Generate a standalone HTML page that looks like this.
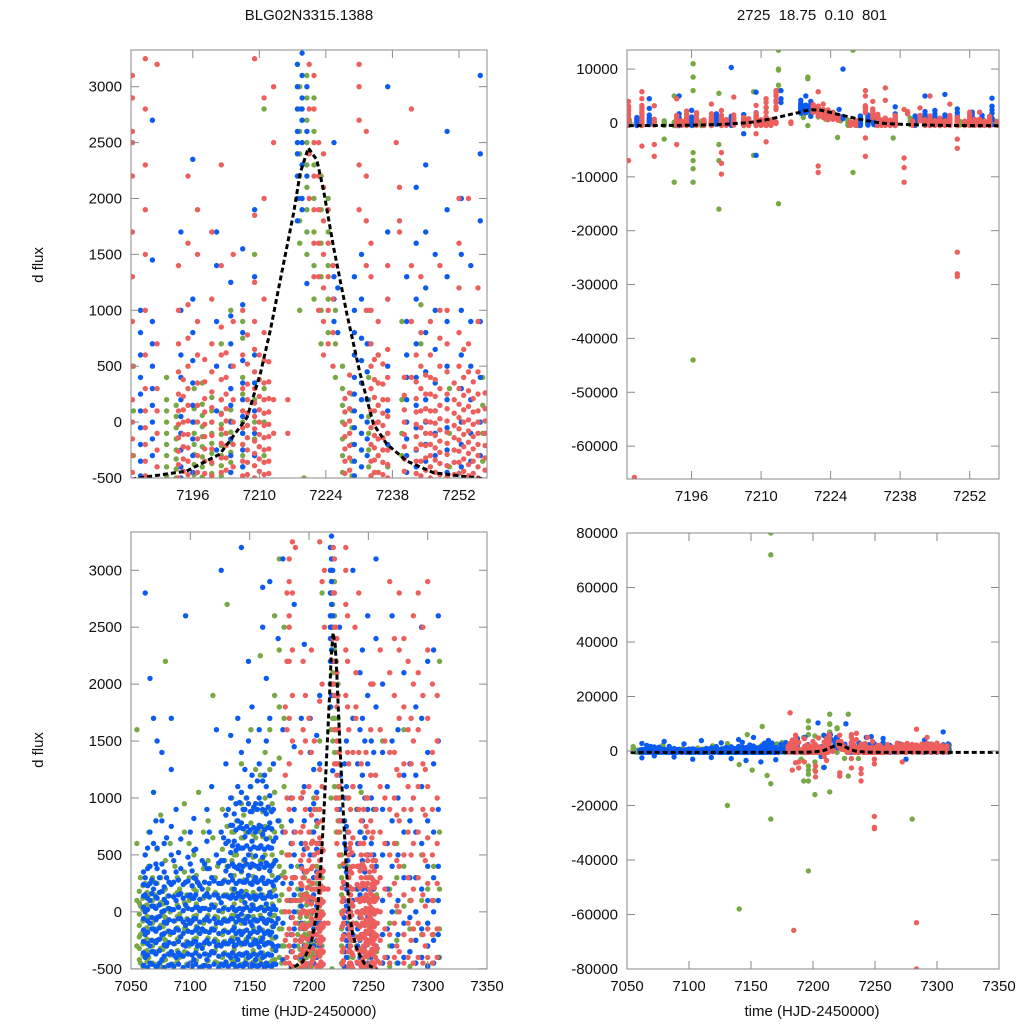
<!DOCTYPE html>
<html><head><meta charset="utf-8">
<style>
html,body{margin:0;padding:0;background:#fff;}
svg text{font-family:"Liberation Sans",Arial,sans-serif;font-size:15px;fill:#111;}
</style></head>
<body>
<svg id="chart" width="1024" height="1024" viewBox="0 0 1024 1024" xmlns="http://www.w3.org/2000/svg">
<text x="309" y="20" text-anchor="middle">BLG02N3315.1388</text>
<text x="812" y="20" text-anchor="middle" xml:space="preserve">2725  18.75  0.10  801</text>
<text transform="translate(43,265) rotate(-90)" text-anchor="middle">d flux</text>
<text transform="translate(43,750) rotate(-90)" text-anchor="middle">d flux</text>
<text x="309" y="1016" text-anchor="middle">time (HJD-2450000)</text>
<text x="812" y="1016" text-anchor="middle">time (HJD-2450000)</text>
</svg>
<script>
// ---- data: [time, [flux values observed that night]] ----
const blueNights = [
[7062,[-400,-200,0,150,300,500,-2500,2800]],[7066,[-450,-300,-100,100,250,400,700,2050]],
[7069,[-350,-150,50,200,600,1050,1700]],[7072,[-480,-250,-50,120,380,560,1500,-1800]],
[7076,[-420,-200,0,180,420,800,1400]],[7080,[-300,-100,80,300,650,3500]],
[7084,[-460,-350,-180,20,240,500,750,1250,1700]],[7088,[-400,-150,100,350,900,-2200]],
[7092,[-380,-220,-60,160,380,640]],[7096,[-300,-120,60,260,2600]],
[7100,[-450,-280,-100,150,420,700]],[7103,[-420,-260,-60,120,300,540,820,-3000]],
[7106,[-300,-140,40,260]],[7110,[-480,-320,-150,30,200,450,3800]],
[7114,[-420,-250,-50,160,380,620,900]],[7118,[-350,-150,60,300,1100,-2400]],
[7122,[-300,-100,150,500,1600]],[7126,[-460,-300,-100,80,250,450,700,3000]],
[7130,[-440,-280,-80,140,360,600,850,1300]],[7134,[-400,-250,-60,120,320,520,760,1000,1550,-2800]],
[7137,[-460,-300,-140,20,200,400,620,860]],[7140,[-420,-240,-40,160,380,580,800,1100,1700,4200]],
[7143,[-380,-200,-20,180,360,560,780,1050,1400,3200]],[7146,[-450,-280,-100,80,260,460,660,900,1250,-3500]],
[7149,[-400,-220,-40,140,320,500,700,950,1500,2200]],[7152,[-460,-290,-120,60,240,420,620,880,1200,1800,5000]],
[7155,[-420,-250,-70,110,300,490,700,950]],[7158,[-470,-310,-140,30,200,380,560,760,1000,1300,1600,-4000]],
[7161,[-400,-230,-60,120,300,480,680,900,1150,2500,2850]],[7164,[-450,-280,-100,70,250,430,640,860,1100,1500,2050,3900]],
[7167,[-380,-200,-20,170,360,560,780,1020,1700,2900]],[7170,[-460,-300,-130,50,230,420,620,900,1300,-3200]],
[7174,[-300,-60,300,800,2400]],[7178,[-420,-100,250,700,1600,3100]],
// extra dense nights in the early season
[7060.5,[-470,-360,-260,-160,-60,40,140,240,350]],[7064,[-490,-380,-280,-180,-80,20,120,230,380,560]],
[7067.5,[-460,-350,-250,-150,-50,50,160,280]],[7071,[-480,-370,-270,-170,-70,30,130,250,420,800]],
[7074,[-450,-340,-240,-140,-40,60,170,300]],[7078,[-490,-390,-290,-190,-90,10,110,220,350,600]],
[7082,[-470,-370,-270,-170,-70,30,140,260]],[7086,[-480,-380,-280,-180,-80,20,130,260,450]],
[7090,[-460,-360,-260,-160,-60,40,150,280,520]],[7094,[-490,-390,-290,-190,-90,10,120,240]],
[7098,[-470,-370,-270,-170,-70,30,140,270,480]],[7101.5,[-480,-380,-280,-180,-80,20,120,230,360]],
[7104.5,[-460,-360,-260,-160,-60,40,150,290,550]],[7108,[-490,-390,-290,-190,-90,10,110,230]],
[7112,[-470,-370,-270,-170,-70,30,140,260,420]],[7116,[-480,-380,-280,-180,-80,20,130,250,380,700]],
[7120,[-460,-360,-260,-160,-60,40,150,270]],[7124,[-490,-390,-290,-190,-90,10,120,250,430]],
[7128,[-470,-370,-270,-170,-70,30,140,270,450,650]],[7132,[-480,-380,-280,-180,-80,20,130,260,400,620,900]],
[7135.5,[-460,-360,-260,-160,-60,40,150,280,420,580,760]],[7138.5,[-490,-390,-290,-190,-90,10,120,250,390,540,720,950]],
[7141.5,[-470,-370,-270,-170,-70,30,140,270,410,560,740,960]],[7144.5,[-480,-380,-280,-180,-80,20,130,260,400,560,730,900]],
[7147.5,[-460,-360,-260,-160,-60,40,150,280,420,580,750,1000]],[7150.5,[-490,-390,-290,-190,-90,10,120,250,390,550,720,880,1100]],
[7153.5,[-470,-370,-270,-170,-70,30,140,270,410,570,740,920]],[7156.5,[-480,-380,-280,-180,-80,20,130,260,400,560,730,900,1150]],
[7159.5,[-460,-360,-260,-160,-60,40,150,280,420,580,750,950]],[7162.5,[-490,-390,-290,-190,-90,10,120,250,390,550,720,890,1200]],
[7165.5,[-470,-370,-270,-170,-70,30,140,270,410,570,740,920]],[7168.5,[-480,-380,-280,-180,-80,20,130,260,400,560,730,880]],
[7172,[-460,-340,-220,-100,20,140,280,450,650]],
[7185,[-480,-350,-200,-50,100,250,400,600,800,1000]],[7187.5,[-300,-150,0,150,300,500,700,900,1450,2700,4500]],
[7193.5,[-500,-400,-250,-100,50,200,400,600,1000,1700,5000]],[7196,[-450,-300,-150,0,150,350,550,800,1100,2350]],
[7201,[-250,100,500,900,1400,1700]],[7204,[-450,-300,-150,0,150,300,500,700,950,1250,10300]],
[7206.5,[-400,-250,-100,50,200,350,550,800,1050,1550,-2000]],[7209,[-300,-100,100,350,600,1300,1900,5700,-6000]],
[7214,[4500,6000,3800]],
[7218,[1800,2000,2200,2400,2600,2800,3000,3200,3400,4200,2500,3600]],
[7219,[2000,2300,2500,2700,2900,3100,3300,5000,1900,2800]],[7220,[2200,2600,3000,3500,1240,4000]],
[7225.7,[1300,1100,900,2500]],[7226.5,[1200,800,10000]],
[7230,[-480,-350,-200,-50,100,250,400,600,800,1000,1300]],[7231.5,[-400,-250,-100,50,200,350,550,750,1100,1500]],
[7232.7,[-300,-150,0,200,450,700]],[7237,[-200,100,500,1100,1700,3000]],
[7241,[-450,-300,-150,0,200,400,600,900,1300]],[7243,[-400,-250,-50,150,400,700,1100,1600,2100,5000]],
[7245,[-350,-200,0,200,450,800,1200,1700,2300]],[7247,[-300,-100,100,350,650,1000,1500,5300]],
[7249.5,[-450,-250,-50,200,500,900,1300,1900,2600]],[7252.5,[-400,-200,0,300,600,1000,1500,2000]],
[7254.5,[-350,-100,200,500,900,1400]],[7256.5,[-300,0,400,900,1800,2400,3100,4600]],
[7262,[-450,-200,100,500,900,1400,2000]],[7266,[-400,-150,200,600,1100]],
[7270,[-300,0,400,800,1500,2600]],[7275,[-450,-200,100,500,1000,1600,-3000]],
[7280,[-400,-100,300,700,1200,2100]],[7285,[-350,-50,300,800,1300]],
[7290,[-450,-250,0,300,700,1200,1800,4000]],[7295,[-400,-150,200,600,1100,1700,2500]],
[7300,[-480,-300,-100,100,400,800,1400,2200]],[7305,[-450,-250,0,300,700,1300,2300,7000]],
[7309,[-400,-200,100,400,900,1500,2600]]
];
const greenNights = [
[7055,[-300,100,600,1600]],[7058,[-450,-200,50,300]],[7062,[-500,-350,-150,50,250,500]],
[7065,[-400,-250,-50,150,400,700]],[7068,[-450,-300,-100,100,300]],[7072,[-350,-150,50,250,550]],
[7075,[-480,-320,-120,80,300,850]],[7079,[-420,-250,-50,200,450,2200]],[7083,[-380,-200,0,250,600]],
[7087,[-460,-280,-80,150,400]],[7091,[-400,-220,-20,200]],[7095,[-350,-150,80,350,700,950]],
[7099,[-460,-300,-100,100,300,600]],[7103,[-420,-240,-40,200,500]],[7107,[-380,-180,30,250,1050]],
[7111,[-470,-290,-100,120,380,700]],[7115,[-430,-230,-30,200,450,800]],[7119,[-350,-150,60,300,650,1900]],
[7123,[-450,-260,-50,150,400]],[7127,[-400,-200,0,250,550,900]],[7131,[-460,-280,-80,150,400,750,2700,-20000]],
[7135,[-420,-230,-30,200,450,700,1000]],[7139,[-380,-180,20,250,500,800]],[7140.5,[-58000,-5000]],
[7143,[-460,-290,-100,100,350,650,950,1300]],[7147,[-420,-240,-40,180,420,700,1000,6000]],
[7151,[-380,-190,20,250,500,780,1100,1600,-7000]],[7155,[-460,-280,-80,150,400,650,900,1250]],
[7159,[-420,-230,-30,200,450,700,950,1200,2250,9000]],[7163,[-380,-190,20,250,500,750,1000,1400,-9000]],
[7166,[80000,72000,-25000,-12000]],[7167,[-450,-270,-70,150,400,650,900,1250,1600]],
[7171,[-420,-230,-30,200,450,700,1050,1900,2600]],[7175,[-400,-150,100,400,800,1350,1800,2300,3100]],
[7179,[-300,0,350,700,1100,1700,2500]],[7183.5,[-300,100,500]],
// extra early-season nights
[7057,[-420,-320,-220,-120,-20,80,180]],[7060,[-480,-380,-280,-180,-80,20,120,230]],
[7063.5,[-440,-340,-240,-140,-40,60,170]],[7070,[-460,-360,-260,-160,-60,40,150,260]],
[7077,[-430,-330,-230,-130,-30,70,180]],[7081,[-470,-370,-270,-170,-70,30,140]],
[7089,[-440,-340,-240,-140,-40,60,170,300]],[7097,[-460,-360,-260,-160,-60,40,150]],
[7105,[-430,-330,-230,-130,-30,70,180,320]],[7113,[-470,-370,-270,-170,-70,30,140]],
[7121,[-440,-340,-240,-140,-40,60,170,300]],[7129,[-460,-360,-260,-160,-60,40,150,280,450]],
[7137,[-430,-330,-230,-130,-30,70,180,320,500,700]],[7145,[-470,-370,-270,-170,-70,30,140,280,450,650,850]],
[7153,[-440,-340,-240,-140,-40,60,170,310,480,680,900]],[7161,[-460,-360,-260,-160,-60,40,150,290,460,660,880]],
[7169,[-430,-330,-230,-130,-30,70,180,320,500,720,950]],[7177,[-450,-300,-150,0,150,320,520,750]],
[7190.5,[-480,-400,-300,-200,-100,0,100,200,400,-3000]],
[7192.5,[-500,-420,-330,-250,-150,-50,50,150,-11000,5000]],
[7196.3,[-470,-380,-290,-200,-100,0,120,300,11000,8500,6000,-5500,-7000,-8500,-11000,-44000]],
[7198,[-490,-400,-310,-220,-130,-40,60,160,350]],
[7200,[-460,-370,-280,-190,-100,0,100,220]],
[7201.5,[5500,-16000,-4000,-7000]],
[7202,[-480,-390,-300,-210,-110,-20,80,200,700]],
[7204,[-450,-360,-270,-180,-90,10,110,300,1000]],
[7206.5,[-400,-300,-200,-100,0,100,250,400,750,900]],
[7208.5,[5800,-6000]],
[7209,[-300,-150,0,200,1500]],[7211,[2800,-300,0,300]],
[7213.5,[10000,9800,13500,-15000,7000,6000]],
[7218.5,[1000,1600,1800,2000,2200,2400,2600,2800,3000]],[7219.4,[8500,8200,-500]],
[7220,[1500,1700,1900,2100,2300,2500,2700,2900,3100]],[7221.5,[1100,1400,1700,2000,2300,2600,2900]],
[7223,[700,1000,1300,1600,1900,2200]],[7224.5,[800,1100,1400,1700,2000]],[7225.4,[-2700]],[7226,[1000,700,400]],
[7227.5,[-450,-300,-150,0,150,300,500]],[7228.5,[13500,-9200]],[7229.5,[-480,-350,-200,-50,100,250]],
[7233,[-400,-250,-100,50,200,400,700,1000]],[7235,[-450,-300,-150,0,150,350,600]],
[7236.6,[-2800]],[7237,[-400,-250,-100,50]],[7240,[-300,-100,200,900]],[7244,[1050,700,-200]],
[7250,[-400,-100,300]],[7257,[-350,-100,150,400]],
[7262,[-450,-200,100,500,1500]],[7268,[-480,-300,-100,200]],[7274,[-450,-250,0,300,600]],
[7280,[-400,-200,50,400,1600,-25000]],[7285,[-480,-350,-150,100]],[7290,[-450,-250,0,300]],
[7295,[-400,-200,100,500,2500]],[7300,[-470,-300,-100,200]],[7305,[-450,-200,100,400]],
[7310,[-400,-150,200,700,2200]]
];
const redNights = [
[7180,[-450,-250,0,300,700,1200,1800]],[7181.5,[-400,-200,100,500,1000,1600,2200,2800,14000]],
[7183.3,[-450,-300,-150,0,200,500,900,1300,1700,2200,2600,2900,3100,-7000,4000,2500]],
[7184.5,[-65800]],
[7186,[-480,-350,-200,-50,100,300,600,1000,1500,1900,2300,2800,3250,5800,4500,-4300]],
[7188.5,[-400,-250,-100,100,300,700,3200,-6200,-4000]],
[7193,[-500,-380,-260,-140,-20,100,250,450,700,1000,1400,4500,-4000]],
[7195,[-470,-350,-230,-110,10,150,300,500,750,1050,1600,2200]],
[7197,[-450,-300,-150,0,150,350,600,900,1500,1900]],
[7200,[-480,-360,-240,-120,0,130,270,450,700,1100,1700,3500]],
[7202,[-450,-320,-190,-60,70,200,380,600,850,1400,2300,-5500,-9500,-7500]],
[7204.5,[-400,-200,0,200,500,900,1500,4800]],
[7206.5,[-480,-350,-200,-50,100,300,600,1000]],
[7209,[-500,-390,-280,-170,-60,50,170,300,450,650,900,1250,1850,3250,-2000]],
[7211,[-470,-360,-250,-140,-30,80,200,350,550,800,1100,2000,2900,3800,4500,-3500]],
[7213,[2500,3000,-100,200,5000,6000,5500,4200,3800]],[7216,[-100,200]],
// extra dense red nights
[7194,[-440,-330,-220,-110,0,110,230,380]],[7198.5,[-460,-350,-240,-130,-20,90,210,360,560]],
[7203,[-430,-320,-210,-100,10,120,250,400,620]],[7207.5,[-470,-360,-250,-140,-30,80,200,340,520,780]],
[7210,[-440,-330,-220,-110,0,110,230,380,600]],[7212,[-460,-350,-240,-130,-20,90,210,360,540]],
[7228,[-460,-350,-240,-130,-20,90,210]],[7229,[-430,-320,-210,-100,10,120,260,420]],
[7234.2,[-450,-340,-230,-120,-10,100,220,380,560]],[7236,[-470,-360,-250,-140,-30,80,200,340,520]],
[7240.5,[-440,-330,-220,-110,0,110,240,400]],[7243,[-460,-350,-240,-130,-20,90,210,360,600]],
[7245,[-430,-320,-210,-100,10,120,250,420]],[7247,[-450,-340,-230,-120,-10,100,230,380]],
[7251,[-470,-360,-250,-140,-30,80,200,350]],[7253,[-440,-330,-220,-110,0,110,240,400,650]],
[7255,[-460,-350,-240,-130,-20,90,210,360]],[7257.5,[-430,-320,-210,-100,10,120,260]],
[7220.5,[2000,2400,2800,3200,3400]],
[7221.5,[1300,1600,1900,2200,2500,2800,3100,5800,-8000,-9200]],
[7222.5,[1000,1300,1600,1900,2200,2500,3500]],[7223.5,[600,900,1200,1500,1800,2100,2400]],
[7224.5,[700,1000,1300,1600,1900]],[7225.5,[500,800,1100,1400]],
[7231,[1900,2300,2700,3200,3000,6000,5000,-2800,-6200]],[7232.5,[1000,1400,1800,2200,2600,4000]],
[7233.5,[-480,-350,-200,-50,100,300,500,700,1000,1300,1600]],
[7235,[-450,-300,-150,0,150,350,600,900,6500,4200]],
[7237,[-500,-380,-250,-100,50,200,400,650,1100,1400]],
[7238.8,[-6500,-8300,-11000,2500]],[7239.5,[1700,2100,1800]],[7242,[2800,1400,900,400]],
[7244,[-480,-350,-200,-50,100,300,500,800,1300,5000]],
[7246,[-500,-400,-300,-200,-100,0,100,250,400,600,900]],
[7248,[-470,-370,-270,-170,-70,30,150,300,500,750,1000,1400,3500]],
[7249.5,[-490,-390,-290,-190,-90,10,120,250,450,700,1000,-24000,-28000,-28500,-4700,-3000]],
[7252,[-460,-360,-260,-160,-60,40,160,300,500,800,1200,1600,2000]],
[7254,[-480,-380,-280,-180,-80,20,140,280,450,700,2000]],
[7256,[-500,-400,-300,-200,-100,0,100,250,450,900,1200]],
[7260,[-450,-250,0,300,700,1100,1600,2300]],[7264,[-400,-150,200,600,1000,1500]],
[7268,[-450,-200,150,500,900,1400,2100,2900]],[7272,[-400,-100,250,600,1000,1400,1900,2400,-4000]],
[7276,[-350,0,400,800,1200,1700,2300,2800]],[7280,[-450,-200,150,500,900,1300,1800,2400]],
[7283.5,[-400,-100,300,700,1100,1600,2200,-63000,-80000,8000]],[7288,[-450,-150,200,600,1000,1500,2000,2600]],
[7292,[-400,-100,300,700,1100,1600,2100,2800,5000]],[7296,[-450,-200,150,500,900,1300,1900,2500]],
[7300,[-400,-150,250,650,1100,1700,2300,2900]],[7304,[-450,-200,100,500,900,1400,2000]],
[7308,[-400,-150,250,600,1000,1500,1900]],
[7274,[-300,50,450,850,1250]],[7286,[-250,100,500,900,1300,1700]],[7298,[-300,50,450,850,1250]]
];
// microlensing model curve (time, flux)
const modelTime = [7040,7150,7183,7194.7,7201.7,7207.4,7210.2,7212.3,7214.4,7217.2,7218.6,7220.3,7222.1,7223.5,7225.6,7228.4,7231.2,7234,7236.8,7241,7246.6,7257.9,7360];
const modelFlux = [-530,-525,-510,-438,-286,40,433,819,1267,1869,2228,2452,2345,2075,1566,971,433,-16,-196,-348,-453,-510,-530];

const ticksTLx=[7196,7210,7224,7238,7252];
const ticksTLy=[-500,0,500,1000,1500,2000,2500,3000];
const ticksTRy=[-60000,-50000,-40000,-30000,-20000,-10000,0,10000];
const ticksBx=[7050,7100,7150,7200,7250,7300,7350];
const ticksBRy=[-80000,-60000,-40000,-20000,0,20000,40000,60000,80000];

const NS='http://www.w3.org/2000/svg';
const svg=document.getElementById('chart');
const COLORS={blue:'#0b5bf0',green:'#78a845',red:'#ec5f5c'};

function mk(tag,attrs,parent){const e=document.createElementNS(NS,tag);for(const k in attrs)e.setAttribute(k,attrs[k]);(parent||svg).appendChild(e);return e;}

function panel(name,box,xd,yd,xt,yt,showXLabels){
  const g=mk('g',{});
  
  
  const sx=t=>box.x0+(t-xd[0])/(xd[1]-xd[0])*(box.x1-box.x0);
  const sy=f=>box.y1-(f-yd[0])/(yd[1]-yd[0])*(box.y1-box.y0);
  const cid='clip-'+name;
  const cp=mk('clipPath',{id:cid},g);
  mk('rect',{x:box.x0,y:box.y0,width:box.x1-box.x0,height:box.y1-box.y0},cp);
  const pts=mk('g',{'clip-path':'url(#'+cid+')'},g);
  const series=[['green',greenNights],['blue',blueNights],['red',redNights]];
  series.forEach(([col,nights])=>{
    const sg=mk('g',{fill:COLORS[col]},pts);
    
    
    nights.forEach(([t,fl])=>{
      const x=sx(t);
      if(x<box.x0-4||x>box.x1+4)return;
      fl.forEach(f=>{const y=sy(f);if(y<box.y0-4||y>box.y1+4)return;
        mk('circle',{cx:x.toFixed(1),cy:y.toFixed(1),r:2.7},sg);});
    });
  });
  let d='';
  modelTime.forEach((t,i)=>{d+=(i?'L':'M')+sx(t).toFixed(1)+' '+sy(modelFlux[i]).toFixed(1);});
  const ml=mk('path',{d:d,fill:'none',stroke:'#000','stroke-width':3,'stroke-dasharray':'5,3'},pts);
  
  
  const fr=mk('rect',{x:box.x0,y:box.y0,width:box.x1-box.x0,height:box.y1-box.y0,fill:'none',stroke:'#8a8a8a','stroke-width':1},g);
  
  
  xt.forEach(t=>{const x=sx(t);
    mk('line',{x1:x,x2:x,y1:box.y1,y2:box.y1-8,stroke:'#8a8a8a'},g);
    mk('line',{x1:x,x2:x,y1:box.y0,y2:box.y0+8,stroke:'#8a8a8a'},g);
    if(showXLabels){const tx=mk('text',{x:x,y:box.y1+22,'text-anchor':'middle'},g);tx.textContent=t;
      
      }
  });
  yt.forEach(f=>{const y=sy(f);
    mk('line',{x1:box.x0,x2:box.x0+8,y1:y,y2:y,stroke:'#8a8a8a'},g);
    mk('line',{x1:box.x1,x2:box.x1-8,y1:y,y2:y,stroke:'#8a8a8a'},g);
    const tx=mk('text',{x:box.x0-9,y:y+5,'text-anchor':'end'},g);tx.textContent=f;
    
    
  });
}
panel('top-left-zoom-panel',{x0:131,x1:487,y0:50,y1:478},[7183,7257.9],[-500,3328],ticksTLx,ticksTLy,true);
panel('top-right-zoom-panel',{x0:627,x1:999,y0:50,y1:479},[7183,7257.9],[-66100,13540],ticksTLx,ticksTRy,true);
panel('bottom-left-full-panel',{x0:131,x1:487,y0:532,y1:969},[7050,7350],[-502,3336],ticksBx,ticksTLy,true);
panel('bottom-right-full-panel',{x0:627,x1:999,y0:533,y1:969},[7050,7350],[-80000,80000],ticksBx,ticksBRy,true);
</script>
</body></html>
